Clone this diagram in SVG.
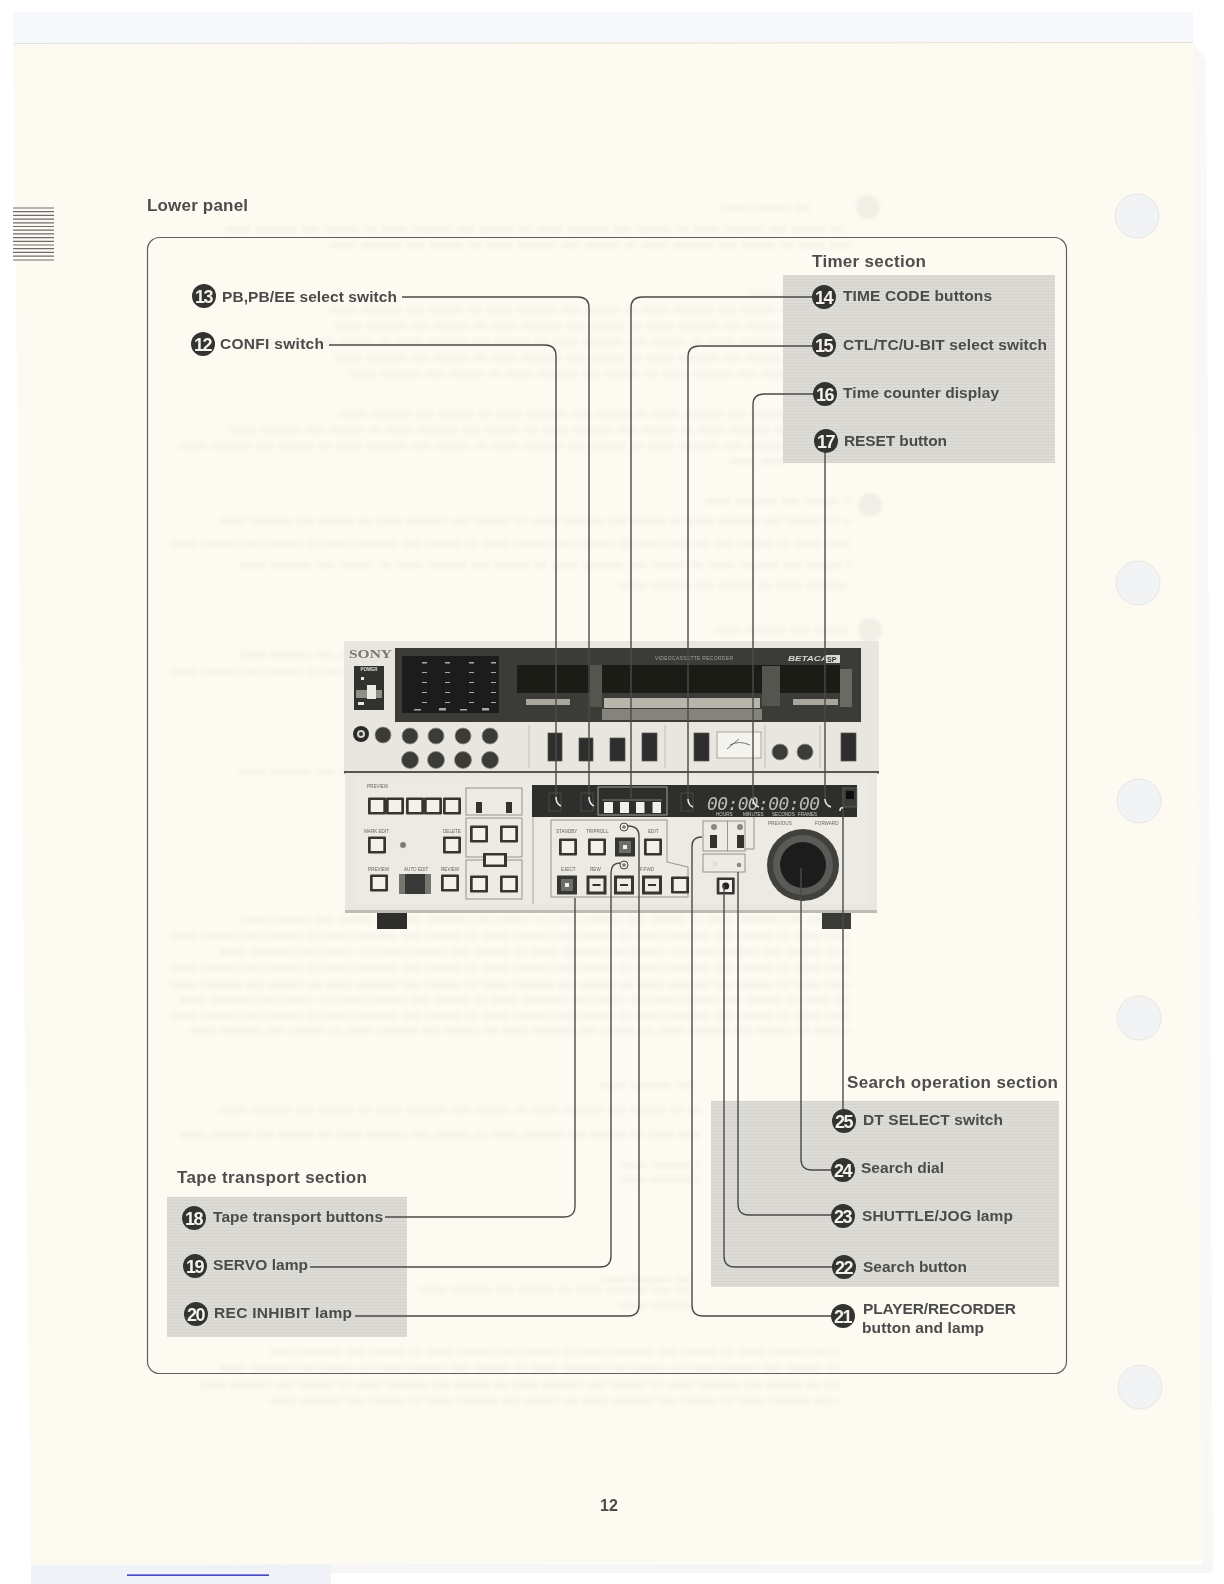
<svg xmlns="http://www.w3.org/2000/svg" width="1224" height="1584" viewBox="0 0 1224 1584">
<style>
text{font-family:"Liberation Sans",Arial,sans-serif}
.lb{font-size:15.500px;font-weight:700;fill:#4b4b4b}
.hd{font-size:17px;font-weight:700;fill:#4d4d4d}
.num{font-size:18px;font-weight:700;fill:#f4f2ea;text-anchor:middle;letter-spacing:-1.500px}
.dot{fill:#333331}
.con{fill:none;stroke:#4a4a48;stroke-width:1.400}
.hook{fill:none;stroke:#e6e6e0;stroke-width:1.600}
.gray{fill:url(#stripes)}
.ghost{fill:none;stroke:#8a867c;stroke-width:6;stroke-dasharray:26 5 40 5 18 5 34 6 12 5;opacity:.05}
.t{font-size:4.600px;fill:#666}
.tw{font-size:4.600px;fill:#c9c9c4}
.dk{fill:#2d2d2b}
.sw{fill:#2f2f2d;stroke:#55554f;stroke-width:.7}
.box{fill:none;stroke:#8d8c84;stroke-width:.9}
.kn{fill:#3a3a37;stroke:#8f8e86;stroke-width:.8}
</style>
<defs>
<pattern id="stripes" width="8" height="3" patternUnits="userSpaceOnUse">
<rect width="8" height="3" fill="#dddbd5"/><rect width="8" height="1" fill="#d5d3cd"/>
</pattern>
<filter id="soft" x="-5%" y="-5%" width="110%" height="110%"><feGaussianBlur stdDeviation="0.45"/></filter>
<filter id="soft2" x="-5%" y="-5%" width="110%" height="110%"><feGaussianBlur stdDeviation="0.7"/></filter>
<filter id="gb" x="-5%" y="-5%" width="110%" height="110%"><feGaussianBlur stdDeviation="1.600"/></filter>
<g id="btn"><rect x="-9" y="-8.500" width="18" height="17" fill="#353533" rx="1"/><rect x="-6.300" y="-6" width="12.600" height="12" fill="#f3f1e9"/></g>
<g id="btnD"><rect x="-10" y="-9.500" width="20" height="19" fill="#353533"/><rect x="-6" y="-6" width="12" height="12" fill="#6c6c68"/><rect x="-2" y="-2" width="4" height="4" fill="#eee"/></g>
<g id="btnT"><rect x="-10" y="-9.500" width="20" height="19" fill="#353533"/><rect x="-7" y="-6.500" width="14" height="13" fill="#eeece4"/><rect x="-4" y="-1" width="8" height="2" fill="#333"/></g>
</defs>

<g id="page">
<rect width="1224" height="1584" fill="#ffffff"/>
<rect x="13" y="12" width="1180" height="32" fill="#f6f8fb"/>
<polygon points="1193,43 1206,60 1213,1572 1202,1572" fill="#f8f8f7"/>
<rect x="31" y="1564" width="1180" height="9" fill="#f6f6f5"/>
<rect x="31" y="1565" width="300" height="19" fill="#f0f2f8"/>
<polygon points="13,43 1193,42 1202,1561 31,1565" fill="#fdfaf2"/>
<line x1="14" y1="43.500" x2="1193" y2="42.500" stroke="#e3e0d8" stroke-width="1"/>
<g id="bleed" filter="url(#gb)">
<path class="ghost" d="M720 208H810M225 229H850M330 245H850M750 294H785M330 310H785M335 326H785M240 342H785M335 358H785M350 374H785M340 414H785M230 430H785M180 446H785M730 461H785M705 501H850M220 521H850M170 544H850M240 565H850M620 586H850M715 630H850M240 655H345M170 672H345M240 772H345M240 920H850M170 936H850M220 952H850M170 968H850M170 985H850M180 1000H850M170 1016H850M190 1031H850M600 1085H700M220 1110H700M180 1135H700M620 1165H700M620 1180H700M600 1280H690M420 1290H690M620 1306H690M270 1352H840M220 1368H840M200 1385H840M270 1401H840"/>
<circle cx="868" cy="207" r="12" fill="#8a867c" opacity=".1"/><circle cx="870" cy="505" r="12" fill="#8a867c" opacity=".1"/><circle cx="870" cy="630" r="12" fill="#8a867c" opacity=".1"/>
</g>
<g fill="#f2f3f4" stroke="#e8e5de" stroke-width="1">
<circle cx="1137" cy="216" r="22"/><circle cx="1138" cy="583" r="22"/><circle cx="1139" cy="801" r="22"/><circle cx="1139" cy="1018" r="22"/><circle cx="1140" cy="1387" r="22"/>
</g>
<path d="M13 208H54M13 211.700H54M13 215.400H54M13 219.100H54M13 222.800H54M13 226.500H54M13 230.200H54M13 233.900H54M13 237.600H54M13 241.300H54M13 245H54M13 248.700H54M13 252.400H54M13 256.100H54M13 260H54" stroke="#6d6d70" stroke-width="1.200" fill="none"/>
<rect x="127" y="1574.500" width="142" height="1.300" fill="#1d1db8"/>
</g>

<g id="backgrounds" filter="url(#soft)">
<rect id="timer-bg" class="gray" x="783" y="275" width="272" height="188"/>
<rect id="search-bg" class="gray" x="711" y="1101" width="348" height="186"/>
<rect id="tape-bg" class="gray" x="167" y="1197" width="240" height="140"/>
<rect id="frame" x="147.500" y="237.500" width="919" height="1136" rx="12" fill="none" stroke="#5f5f5b" stroke-width="1.200"/>
</g>

<g id="device" filter="url(#soft2)">
<rect x="344" y="641" width="535" height="131" fill="#e8e6de"/>
<rect x="395" y="648" width="466" height="74" fill="#3b3a37"/>
<rect x="402" y="656" width="97" height="57" fill="#1f1f1d"/>
<rect x="517" y="665" width="323" height="28" fill="#1a1a18"/>
<rect x="590" y="665" width="12" height="42" fill="#55554f"/>
<rect x="762" y="666" width="18" height="40" fill="#55554f"/>
<rect x="526" y="699" width="44" height="6" fill="#a9a79d"/>
<rect x="793" y="699" width="45" height="6" fill="#a9a79d"/>
<rect x="604" y="698" width="156" height="10" fill="#b8b6ab"/>
<rect x="602" y="709" width="160" height="11" fill="#85847c"/>
<rect x="840" y="669" width="12" height="38" fill="#6b6a63"/>
<g fill="#aaa9a2"><rect x="422" y="662" width="5" height="1.500"/><rect x="445" y="662" width="5" height="1.500"/><rect x="469" y="662" width="5" height="1.500"/><rect x="491" y="662" width="5" height="1.500"/><rect x="422" y="672" width="5" height="1"/><rect x="445" y="672" width="5" height="1"/><rect x="469" y="672" width="5" height="1"/><rect x="491" y="672" width="5" height="1"/><rect x="422" y="682" width="5" height="1"/><rect x="445" y="682" width="5" height="1"/><rect x="469" y="682" width="5" height="1"/><rect x="491" y="682" width="5" height="1"/><rect x="422" y="692" width="5" height="1"/><rect x="445" y="692" width="5" height="1"/><rect x="469" y="692" width="5" height="1"/><rect x="491" y="692" width="5" height="1"/><rect x="422" y="702" width="5" height="1"/><rect x="445" y="702" width="5" height="1"/><rect x="469" y="702" width="5" height="1"/><rect x="491" y="702" width="5" height="1"/><rect x="414" y="709" width="7" height="1.500"/><rect x="439" y="708" width="7" height="2.500"/><rect x="460" y="709" width="7" height="1.500"/><rect x="482" y="708" width="7" height="2.500"/></g>
<text x="349" y="657.500" font-size="11.500" font-weight="700" fill="#77766f" textLength="43" lengthAdjust="spacingAndGlyphs" style="font-family:'Liberation Serif',serif">SONY</text>
<text x="788" y="661" font-size="8" font-weight="700" font-style="italic" fill="#d7d6cf" textLength="48" lengthAdjust="spacingAndGlyphs">BETACAM</text>
<rect x="826" y="655" width="14" height="8" fill="#dad9d2"/><text x="827" y="661.500" font-size="7" font-weight="700" fill="#333">SP</text>
<text x="655" y="660" font-size="5" fill="#a5a49c" textLength="78">VIDEOCASSETTE RECORDER</text>
<rect x="354" y="666" width="30" height="44" fill="#33332f"/>
<text x="369" y="671" font-size="4.500" font-weight="700" fill="#e0dfd8" text-anchor="middle">POWER</text>
<rect x="356" y="690" width="26" height="8" fill="#8f8e86"/><rect x="367" y="685" width="9" height="14" fill="#ecebe4"/>
<rect x="358" y="702" width="6" height="3" fill="#e8e8e2"/><rect x="361" y="677" width="3" height="3" fill="#e8e8e2"/>
<circle cx="361" cy="734" r="8" fill="#2c2c2a"/><circle cx="361" cy="734" r="4" fill="#d4d3cc"/><circle cx="361" cy="734" r="2" fill="#333"/>
<circle class="kn" cx="383" cy="735" r="8"/>
<g id="knobs"><circle class="kn" cx="410" cy="736" r="8"/><circle class="kn" cx="436" cy="736" r="8"/><circle class="kn" cx="463" cy="736" r="8"/><circle class="kn" cx="490" cy="736" r="8"/><circle class="kn" cx="410" cy="760" r="8.500"/><circle class="kn" cx="436" cy="760" r="8.500"/><circle class="kn" cx="463" cy="760" r="8.500"/><circle class="kn" cx="490" cy="760" r="8.500"/><circle class="kn" cx="780" cy="752" r="8"/><circle class="kn" cx="805" cy="752" r="8"/></g>
<g><rect class="sw" x="548" y="733" width="14" height="28"/><rect class="sw" x="579" y="738" width="14" height="23"/><rect class="sw" x="610" y="738" width="15" height="23"/><rect class="sw" x="642" y="733" width="15" height="28"/><rect class="sw" x="694" y="733" width="15" height="28"/><rect class="sw" x="841" y="733" width="15" height="28"/></g>
<rect x="717" y="732" width="44" height="26" fill="#f4f3ed" stroke="#888" stroke-width=".7"/><path d="M727 749L739 739M730 745Q739 740 750 745" stroke="#555" fill="none" stroke-width=".8"/>
<path d="M529 725V768M665 725V768M765 725V768M820 725V768" stroke="#b5b3aa" stroke-width=".8"/>
<rect x="344" y="771" width="535" height="2.500" fill="#55544e"/>

<rect x="345" y="773" width="532" height="139" fill="#e9e7df"/>
<rect x="356" y="777" width="512" height="127" fill="#eceae2"/>
<rect x="345" y="910" width="532" height="3" fill="#bdbbb2"/>
<rect x="377" y="913" width="30" height="16" fill="#2e2e2b"/>
<rect x="822" y="913" width="29" height="16" fill="#3a3a36"/>
<path d="M533 785V904" stroke="#a7a59c" stroke-width="1"/>
<g class="boxes"><rect class="box" x="466" y="788" width="56" height="27"/><rect class="box" x="466" y="818" width="56" height="39"/><rect class="box" x="466" y="860" width="56" height="39"/><path class="box" d="M551 820H667V862L688 867V897H551Z"/><rect class="box" x="703" y="821" width="42" height="30"/><path class="box" d="M727.500 821V851"/><rect class="box" x="703" y="854" width="42" height="18"/><path class="box" d="M745 849H754V817"/></g>
<rect class="dk" x="532" y="785" width="325" height="32"/>
<g id="panel-btns"><use href="#btn" x="377" y="806"/><use href="#btn" x="395" y="806"/><use href="#btn" x="415" y="806"/><use href="#btn" x="433" y="806"/><use href="#btn" x="452" y="806"/>
<use href="#btn" x="377" y="845"/><use href="#btn" x="452" y="845"/><use href="#btn" x="379" y="883"/><use href="#btn" x="450" y="883"/>
<use href="#btn" x="479" y="834"/><use href="#btn" x="509" y="834"/><use href="#btn" x="479" y="884"/><use href="#btn" x="509" y="884"/>
<use href="#btn" x="568" y="847"/><use href="#btn" x="597" y="847"/><use href="#btnD" x="625" y="847"/><use href="#btn" x="653" y="847"/>
<use href="#btnD" x="567" y="885"/><use href="#btnT" x="596.500" y="885"/><use href="#btnT" x="624" y="885"/><use href="#btnT" x="652" y="885"/><use href="#btn" x="680" y="885"/></g>
<rect x="483" y="853" width="24" height="14" fill="#353533"/><rect x="486" y="855.500" width="18" height="9" fill="#f3f1e9"/>
<rect x="399" y="874" width="32" height="20" fill="#767570"/><rect x="405" y="874" width="20" height="20" fill="#393937"/>
<circle cx="403" cy="845" r="2.800" fill="#777" stroke="#999"/>
<rect x="476" y="802" width="6" height="11" fill="#33332f"/><rect x="506" y="802" width="6" height="11" fill="#33332f"/>
<g fill="#efeee7" stroke="#444" stroke-width="1"><circle cx="624" cy="827" r="4"/><circle cx="624" cy="865" r="4"/></g>
<circle cx="624" cy="827" r="1.800" fill="#777"/><circle cx="624" cy="865" r="1.800" fill="#777"/>
<g fill="#888"><circle cx="714" cy="827" r="3"/><circle cx="740" cy="827" r="3"/></g>
<rect x="710" y="835" width="7" height="13" fill="#33332f"/><rect x="737" y="835" width="7" height="13" fill="#33332f"/>
<rect x="713" y="862" width="4" height="4" fill="#ddd"/><circle cx="739" cy="865" r="2.300" fill="#888"/>
<use href="#btn" x="725.700" y="886"/><circle cx="725.700" cy="886" r="3.500" fill="#222"/>
<rect x="598" y="787" width="69" height="28" fill="none" stroke="#c0bfb8" stroke-width=".8"/>
<path d="M602 800H662" stroke="#bbb" stroke-width=".6"/>
<g fill="#f1efe8"><rect x="604" y="802" width="9" height="11"/><rect x="620" y="802" width="9" height="11"/><rect x="636" y="802" width="8.500" height="11"/><rect x="652.500" y="802" width="8.500" height="11"/></g>
<rect class="sw" x="549" y="793" width="12" height="18"/><rect class="sw" x="581" y="793" width="12" height="18"/><rect class="sw" x="681" y="793" width="12" height="18"/>
<text x="707" y="810" font-size="18" font-style="italic" fill="#b9b9b4" textLength="113" lengthAdjust="spacing" style="font-family:'DejaVu Sans Mono',monospace">00:00:00:00</text>
<g class="tw"><text x="716" y="815.500">HOURS</text><text x="743" y="815.500">MINUTES</text><text x="772" y="815.500">SECONDS</text><text x="798" y="815.500">FRAMES</text></g>
<rect x="843" y="788" width="14" height="19" fill="#3a3a37" stroke="#777" stroke-width=".6"/><rect x="846" y="791" width="8" height="8" fill="#111"/>
<g class="t"><text x="367" y="788">PREVIEW</text><text x="364" y="833">MARK EDIT</text><text x="368" y="871">PREVIEW</text><text x="404" y="871">AUTO EDIT</text><text x="441" y="871">REVIEW</text><text x="443" y="833">DELETE</text><text x="556" y="833">STANDBY</text><text x="586" y="833">TRIPROLL</text><text x="648" y="833">EDIT</text><text x="561" y="871">EJECT</text><text x="590" y="871">REW</text><text x="640" y="871">F.FWD</text><text x="768" y="825">PREVIOUS</text><text x="815" y="825">FORWARD</text></g>
<circle cx="803" cy="865" r="36" fill="#3f3f3c"/><circle cx="803" cy="865" r="30" fill="#5a5a56"/><circle cx="803" cy="865" r="23" fill="#1e1e1c"/>
</g>

<g id="connectors">
<path class="con" d="M329 345H545Q556 345 556 356V798"/>
<path class="con" d="M402 297H578Q589 297 589 308V798"/>
<path class="con" d="M812 297H642Q631 297 631 308V798"/>
<path class="con" d="M812 346H699Q688 346 688 357V800"/>
<path class="con" d="M813 394H764Q753 394 753 405V800"/>
<path class="con" d="M825 450V800"/>
<path class="con" d="M843 1110V808"/>
<path class="con" d="M832 1170H812Q801 1170 801 1159V868"/>
<path class="con" d="M832 1215H749Q738 1215 738 1204V872"/>
<path class="con" d="M833 1267H735Q724 1267 724 1256V885"/>
<path class="con" d="M832 1316H703Q692 1316 692 1305V846Q692 837 702 837"/>
<path class="con" d="M385 1217H564Q575 1217 575 1206V898"/>
<path class="con" d="M310 1267H600Q611 1267 611 1256V873Q611 863 620 863"/>
<path class="con" d="M355 1316H628Q639 1316 639 1305V836Q639 826 628 826"/>
<path class="hook" d="M556 797Q556 804 561 806M589 797Q589 804 594 806M688 799Q688 805 693 807M753 799Q753 805 759 807M825 799Q825 805 831 807M843 808Q840 807 840 811"/>
</g>

<g id="node-12"><circle class="dot" cx="203" cy="344" r="12"/><text class="num" x="202.500" y="350.500">12</text><text class="lb" x="220" y="349" textLength="104">CONFI switch</text></g>
<g id="node-13"><circle class="dot" cx="204" cy="296" r="12"/><text class="num" x="203.500" y="302.500">13</text><text class="lb" x="222" y="302" textLength="175">PB,PB/EE select switch</text></g>
<g id="heading-timer"><text class="hd" x="812" y="267" textLength="114">Timer section</text></g>
<g id="node-14"><circle class="dot" cx="824" cy="297" r="12"/><text class="num" x="823.500" y="303.500">14</text><text class="lb" x="843" y="301" textLength="149">TIME CODE buttons</text></g>
<g id="node-15"><circle class="dot" cx="824" cy="345" r="12"/><text class="num" x="823.500" y="351.500">15</text><text class="lb" x="843" y="350" textLength="204">CTL/TC/U-BIT select switch</text></g>
<g id="node-16"><circle class="dot" cx="825" cy="394" r="12"/><text class="num" x="824.500" y="400.500">16</text><text class="lb" x="843" y="398" textLength="156">Time counter display</text></g>
<g id="node-17"><circle class="dot" cx="826" cy="441" r="12"/><text class="num" x="825.500" y="447.500">17</text><text class="lb" x="844" y="446" textLength="103">RESET button</text></g>
<g id="heading-search"><text class="hd" x="847" y="1088" textLength="211">Search operation section</text></g>
<g id="node-25"><circle class="dot" cx="844" cy="1121" r="12"/><text class="num" x="843.500" y="1127.500">25</text><text class="lb" x="863" y="1125" textLength="140">DT SELECT switch</text></g>
<g id="node-24"><circle class="dot" cx="843" cy="1170" r="12"/><text class="num" x="842.500" y="1176.500">24</text><text class="lb" x="861" y="1173" textLength="83">Search dial</text></g>
<g id="node-23"><circle class="dot" cx="843" cy="1216" r="12"/><text class="num" x="842.500" y="1222.500">23</text><text class="lb" x="862" y="1221" textLength="151">SHUTTLE/JOG lamp</text></g>
<g id="node-22"><circle class="dot" cx="844" cy="1267" r="12"/><text class="num" x="843.500" y="1273.500">22</text><text class="lb" x="863" y="1272" textLength="104">Search button</text></g>
<g id="node-21"><circle class="dot" cx="843" cy="1316" r="12"/><text class="num" x="842.500" y="1322.500">21</text><text class="lb" x="863" y="1314" textLength="153">PLAYER/RECORDER</text><text class="lb" x="862" y="1333" textLength="122">button and lamp</text></g>
<g id="heading-tape"><text class="hd" x="177" y="1183" textLength="190">Tape transport section</text></g>
<g id="node-18"><circle class="dot" cx="194" cy="1218" r="12"/><text class="num" x="193.500" y="1224.500">18</text><text class="lb" x="213" y="1222" textLength="170">Tape transport buttons</text></g>
<g id="node-19"><circle class="dot" cx="195" cy="1266" r="12"/><text class="num" x="194.500" y="1272.500">19</text><text class="lb" x="213" y="1270" textLength="95">SERVO lamp</text></g>
<g id="node-20"><circle class="dot" cx="196" cy="1314" r="12"/><text class="num" x="195.500" y="1320.500">20</text><text class="lb" x="214" y="1318" textLength="138">REC INHIBIT lamp</text></g>
<g id="heading-lower"><text class="hd" x="147" y="211" textLength="101">Lower panel</text></g>
<g id="page-number"><text x="600" y="1511" font-size="16" font-weight="700" fill="#4b4b4b" textLength="18">12</text></g>
</svg>
